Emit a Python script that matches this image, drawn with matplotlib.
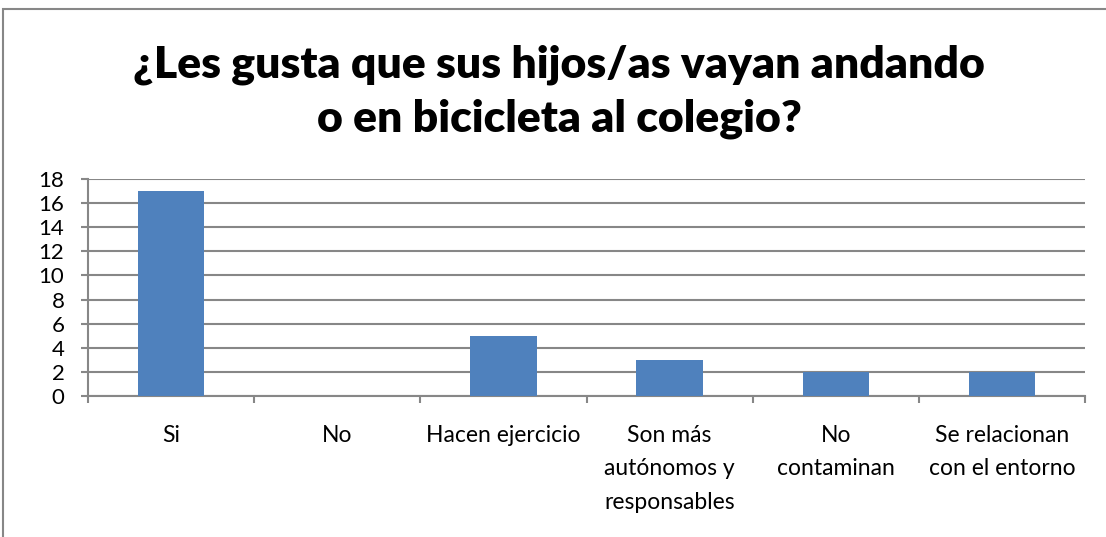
import matplotlib
matplotlib.use("Agg")
import matplotlib.pyplot as plt
from matplotlib.patches import Rectangle
import numpy as np

categories = ["Si", "No", "Hacen ejercicio", "Son más\nautónomos y\nresponsables",
              "No\ncontaminan", "Se relacionan\ncon el entorno"]
values = [17, 0, 5, 3, 2, 2]
yticks = list(range(0, 19, 2))
title = "¿Les gusta que sus hijos/as vayan andando\no en bicicleta al colegio?"

plt.rcParams['font.family'] = ['Lato', 'DejaVu Sans']

fig = plt.figure(figsize=(11.06, 5.37), dpi=100)
ax = fig.add_axes([88/1106, 1-396/537, (1085-88)/1106, (396-179)/537])

gray = "#878787"
x = np.arange(len(categories))
ax.bar(x, values, width=0.4, color="#4F81BD", zorder=3)
ax.set_xlim(-0.5, len(categories)-0.5)
ax.set_ylim(0, 18)
ax.set_yticks(yticks)
ax.set_yticklabels([str(t) for t in yticks], fontsize=16)
ax.yaxis.grid(True, color=gray, linewidth=1.5, zorder=0)
ax.set_axisbelow(True)

ax.set_xticks(x)
ax.set_xticklabels(categories, fontsize=16.5, linespacing=1.72, va="top")
ax.tick_params(axis="x", which="major", length=0, pad=21)
ax.set_xticks(np.arange(-0.5, len(categories), 1.0), minor=True)
ax.tick_params(axis="x", which="minor", length=5, width=1.5, color=gray)
ax.tick_params(axis="y", length=5, width=1.5, color=gray, pad=12)

for s in ["top", "right"]:
    ax.spines[s].set_visible(False)
for s in ["left", "bottom"]:
    ax.spines[s].set_color(gray)
    ax.spines[s].set_linewidth(1.5)

fig.text(559/1106, 1-92/537, title, ha="center", va="center", fontsize=32,
         fontweight="heavy", linespacing=1.4)

border = Rectangle((3/1106, -0.1), 1.2, 1-9/537+0.1, transform=fig.transFigure,
                   fill=False, edgecolor=gray, linewidth=1.5, clip_on=False)
fig.patches.append(border)

fig.savefig("out.png", dpi=100)
